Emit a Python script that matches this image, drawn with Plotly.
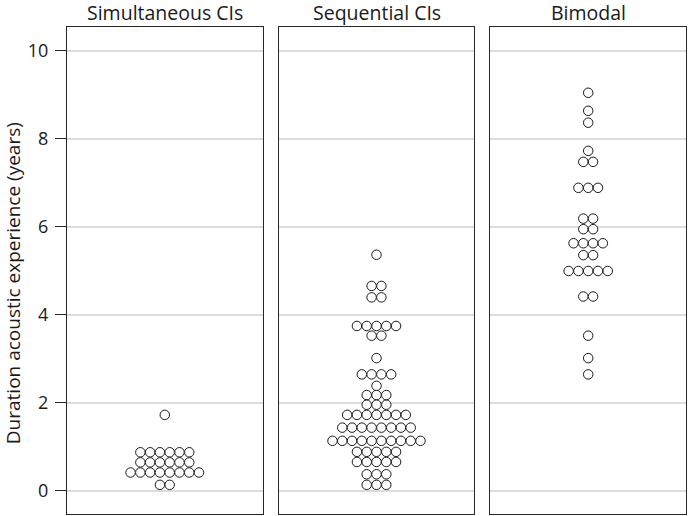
import plotly.graph_objects as go
from plotly.subplots import make_subplots
from collections import Counter

panel_titles = ["Simultaneous CIs", "Sequential CIs", "Bimodal"]
y_title = "Duration acoustic experience (years)"

simultaneous = [1.73] + [0.88] * 6 + [0.65] * 6 + [0.42] * 8 + [0.14] * 2

sequential = ([5.37] + [4.66] * 2 + [4.40] * 2 + [3.75] * 5 + [3.53] * 2 + [3.02]
              + [2.65] * 4 + [2.39] + [2.18] * 3 + [1.96] * 3 + [1.73] * 7
              + [1.44] * 8 + [1.14] * 10 + [0.89] * 5 + [0.66] * 5 + [0.38] * 3
              + [0.14] * 3)

bimodal = ([9.05] + [8.64] + [8.37] + [7.73] + [7.48] * 2 + [6.89] * 3
           + [6.19] * 2 + [5.95] * 2 + [5.63] * 4 + [5.36] * 2 + [5.00] * 5
           + [4.42] * 2 + [3.53] + [3.02] + [2.65])

groups = [simultaneous, sequential, bimodal]
y_ticks = [0, 2, 4, 6, 8, 10]

FONT = "Open Sans"
STEP = 0.1  # horizontal dot spacing in x-axis units


def swarm_x(values):
    counts = Counter(values)
    seen = Counter()
    xs = []
    for v in values:
        n = counts[v]
        i = seen[v]
        seen[v] += 1
        xs.append((i - (n - 1) / 2) * STEP)
    return xs


fig = make_subplots(rows=1, cols=3, shared_yaxes=True,
                    subplot_titles=panel_titles, horizontal_spacing=0.026)

for k, vals in enumerate(groups):
    fig.add_trace(go.Scatter(
        x=swarm_x(vals), y=vals, mode="markers",
        marker=dict(symbol="circle", size=9.5, color="white",
                    line=dict(color="#1a1a1a", width=1)),
        showlegend=False, hoverinfo="y"), row=1, col=k + 1)

for k in range(3):
    fig.update_xaxes(range=[-1, 1], showticklabels=False, ticks="",
                     showgrid=False, zeroline=False, showline=True,
                     mirror=True, linecolor="#262626", linewidth=1,
                     row=1, col=k + 1)
    fig.update_yaxes(range=[-0.523, 10.545], tickvals=y_ticks,
                     showgrid=True, gridcolor="#dcdcdc", gridwidth=2,
                     zeroline=False, showline=True, mirror=True,
                     linecolor="#262626", linewidth=1,
                     row=1, col=k + 1)

fig.update_yaxes(ticks="outside", ticklen=11, tickcolor="#262626",
                 ticklabelstandoff=3,
                 tickfont=dict(family=FONT, size=18, color="#1a1a1a"),
                 row=1, col=1)

for ann in fig.layout.annotations:
    ann.font = dict(family=FONT, size=19.5, color="#1a1a1a")
    ann.yshift = -1

fig.add_annotation(text=y_title, textangle=-90, xref="paper", yref="paper",
                   x=-0.0872, y=0.474, xanchor="center", yanchor="middle",
                   showarrow=False,
                   font=dict(family=FONT, size=19, color="#1a1a1a"))

fig.update_layout(width=688, height=516,
                  margin=dict(l=67, r=2, t=27, b=2),
                  paper_bgcolor="white", plot_bgcolor="white")

fig.write_html("out.html", config={"displayModeBar": False},
               post_script="document.body.style.margin='0';")
